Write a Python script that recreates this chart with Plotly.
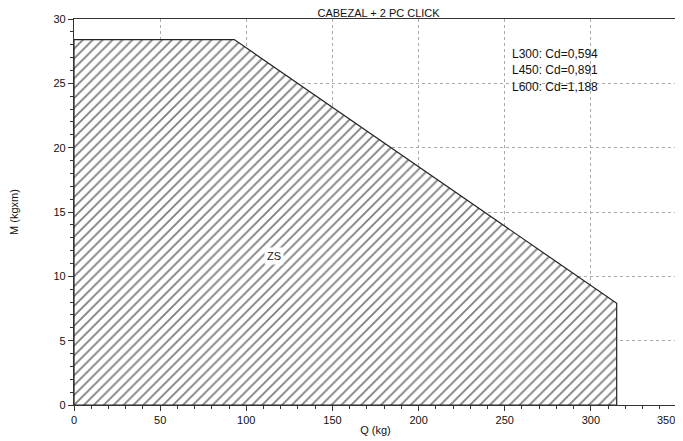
import plotly.graph_objects as go

# Envelope of the allowed zone (Q in kg, M in kgxm)
q_vals = [0, 0, 93, 315, 315, 0]
m_vals = [0, 28.4, 28.4, 7.9, 0, 0]

title_text = "CABEZAL + 2 PC CLICK"
cd_labels = ["L300: Cd=0,594", "L450: Cd=0,891", "L600: Cd=1,188"]
cd_y = [27.3, 26.0, 24.7]
cd_x = 253
zone_label = "ZS"
zone_pos = (116, 11.6)
x_max = 350

font_family = "Liberation Sans, Arial, sans-serif"

# page body keeps an 8px margin, so the figure is sized to fill the rest of the window
W, H = 675, 433

fig = go.Figure()
fig.add_trace(go.Scatter(
    x=q_vals, y=m_vals, mode="lines", fill="toself",
    line=dict(color="#222222", width=1.2),
    fillcolor="white",
    fillpattern=dict(shape="/", fgcolor="#000000", bgcolor="white", size=7, solidity=0.26),
    hoverinfo="skip", showlegend=False,
))

for lbl, yy in zip(cd_labels, cd_y):
    fig.add_annotation(x=cd_x, y=yy, text=lbl, showarrow=False, xanchor="left",
                       yanchor="middle", font=dict(size=12, color="#111111", family=font_family))

fig.add_annotation(x=zone_pos[0], y=zone_pos[1], text=zone_label, showarrow=False,
                   bgcolor="white", borderpad=2,
                   font=dict(size=11, color="#222222", family=font_family))

# last tick label, kept inside the window (the axis would otherwise hide it at the edge)
fig.add_annotation(x=x_max, xref="x", y=0, yref="paper", yshift=-7, text=str(x_max),
                   showarrow=False, xanchor="right", yanchor="top",
                   font=dict(size=11, color="#111111", family=font_family))

axis_common = dict(
    showline=True, linecolor="#333333", linewidth=1.3, mirror=True,
    ticks="outside", ticklen=5, tickcolor="#333333", tickwidth=1,
    showgrid=True, gridcolor="#aaaaaa", griddash="dot", gridwidth=1,
    zeroline=False, tickfont=dict(size=11, color="#111111", family=font_family),
    automargin=False,
)

fig.update_xaxes(range=[0, x_max], dtick=50, tick0=0,
                 minor=dict(dtick=10, ticks="outside", ticklen=3, tickcolor="#333333", showgrid=False),
                 title=dict(text="Q (kg)", font=dict(size=11, color="#111111", family=font_family), standoff=0),
                 **axis_common)
fig.update_yaxes(range=[0, 30], dtick=5, tick0=0,
                 minor=dict(dtick=1, ticks="outside", ticklen=3, tickcolor="#333333", showgrid=False),
                 title=dict(text="M (kgxm)", font=dict(size=11, color="#111111", family=font_family), standoff=41),
                 **axis_common)

fig.update_layout(
    width=W, height=H,
    margin=dict(l=66, r=6, t=11, b=36),
    paper_bgcolor="white", plot_bgcolor="white",
    title=dict(text=title_text, x=0.549, xanchor="center", yref="container", y=1 - 5.5 / H,
               yanchor="middle", font=dict(size=11, color="#111111", family=font_family)),
    showlegend=False,
)

fig.write_html("out.html")
